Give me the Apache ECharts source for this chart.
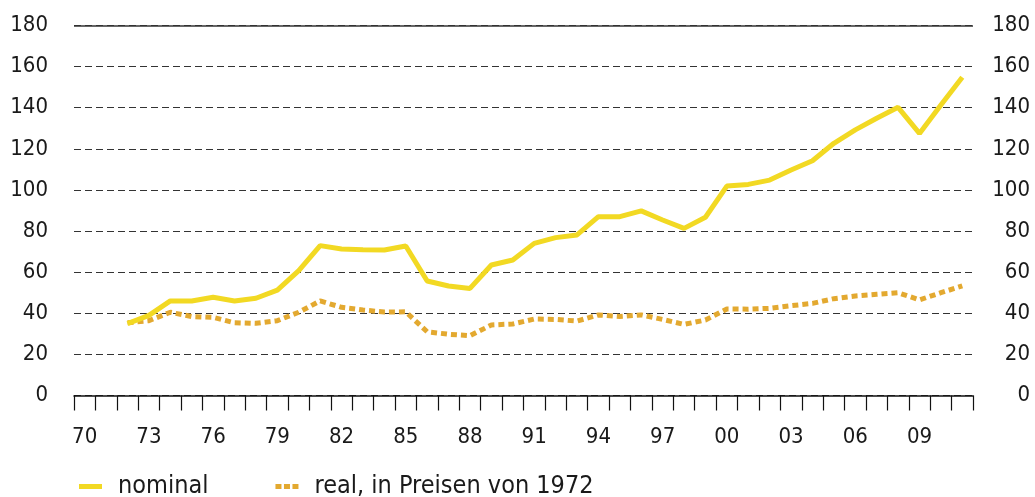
<!DOCTYPE html>
<html>
<head>
<meta charset="utf-8">
<script src="https://cdn.jsdelivr.net/npm/echarts@6/dist/echarts.min.js"></script>
<style>
html,body{margin:0;padding:0;background:#fff;}
#c{width:1035px;height:497px;}
</style>
</head>
<body>
<div id="c"></div>
<script>
const years = ['70','71','72','73','74','75','76','77','78','79','80','81','82','83','84','85','86','87','88','89','90','91','92','93','94','95','96','97','98','99','00','01','02','03','04','05','06','07','08','09','10','11'];
const nominal = [null,null,35,39,46,46,47.8,46,47.3,51.3,60.7,72.9,71.3,70.9,70.8,72.7,55.7,53.3,52.1,63.5,65.9,74,76.8,78.1,87,87,89.8,85.4,81.3,86.7,101.9,102.7,104.8,109.7,114.2,122.7,129.2,134.9,140.2,127.5,141.3,154.8];
const real = [null,null,35.4,36.4,40.5,38.4,38,35.4,35.1,36.4,40.5,46,42.9,41.6,40.6,40.7,31,29.8,29.1,34.3,34.8,37.2,37,36.2,39.2,38.4,39.2,37,34.6,36.7,42.1,42,42.4,43.7,44.8,47.1,48.4,49.2,50,46.5,50,53.3];
const yTicks = {min:0, max:180, interval:20};
const names = ['nominal','real, in Preisen von 1972'];

const FONT = "'DejaVu Sans Condensed', 'DejaVu Sans', sans-serif";
const chart = echarts.init(document.getElementById('c'), null, {renderer:'canvas'});
chart.setOption({
  animation:false,
  backgroundColor:'#fff',
  textStyle:{fontFamily:FONT},
  grid:{left:74, right:62, top:25.5, bottom:101.5, containLabel:false},
  legend:{
    left:74, top:469, itemGap:67, itemWidth:23, itemHeight:5,
    textStyle:{fontFamily:FONT, fontSize:25, color:'#1a1a1a', padding:[0,0,0,11]},
    data:[
      {name:names[0], icon:'rect', itemStyle:{color:'#F2D923', borderWidth:0}},
      {name:names[1], icon:'path://M0,0h6v5h-6z M8.5,0h6v5h-6z M17,0h6v5h-6z', itemStyle:{color:'#E3A930', borderWidth:0}}
    ]
  },
  xAxis:{
    type:'category', data:years, boundaryGap:true,
    axisLine:{lineStyle:{color:'#111', width:1.5}},
    axisTick:{show:true, interval:0, length:15, lineStyle:{color:'#111', width:1.2}},
    axisLabel:{interval:2, margin:31, fontSize:22, color:'#1a1a1a', fontFamily:FONT}
  },
  yAxis:[
    {type:'value', min:yTicks.min, max:yTicks.max, interval:yTicks.interval,
     axisLine:{show:false}, axisTick:{show:false},
     axisLabel:{margin:26, fontSize:22, color:'#1a1a1a', fontFamily:FONT},
     splitLine:{show:true, lineStyle:{color:'#333', width:1, type:[7,4]}}},
    {type:'value', position:'right', min:yTicks.min, max:yTicks.max, interval:yTicks.interval,
     axisLine:{show:false}, axisTick:{show:false},
     axisLabel:{margin:57, align:'right', fontSize:22, color:'#1a1a1a', fontFamily:FONT},
     splitLine:{show:false}}
  ],
  series:[
    {name:names[0], type:'line', data:nominal, symbol:'none', connectNulls:false,
     itemStyle:{color:'#F2D923'},
     lineStyle:{color:'#F2D923', width:5},
     z:3,
     markLine:{silent:true, symbol:'none', label:{show:false},
       lineStyle:{color:'#333', width:1.5, type:'solid'},
       data:[{yAxis:180}]}},
    {name:names[1], type:'line', data:real, symbol:'none',
     itemStyle:{color:'#E3A930'},
     lineStyle:{color:'#E3A930', width:5, type:[6,4], cap:'butt'},
     z:2}
  ]
});
</script>
</body>
</html>
